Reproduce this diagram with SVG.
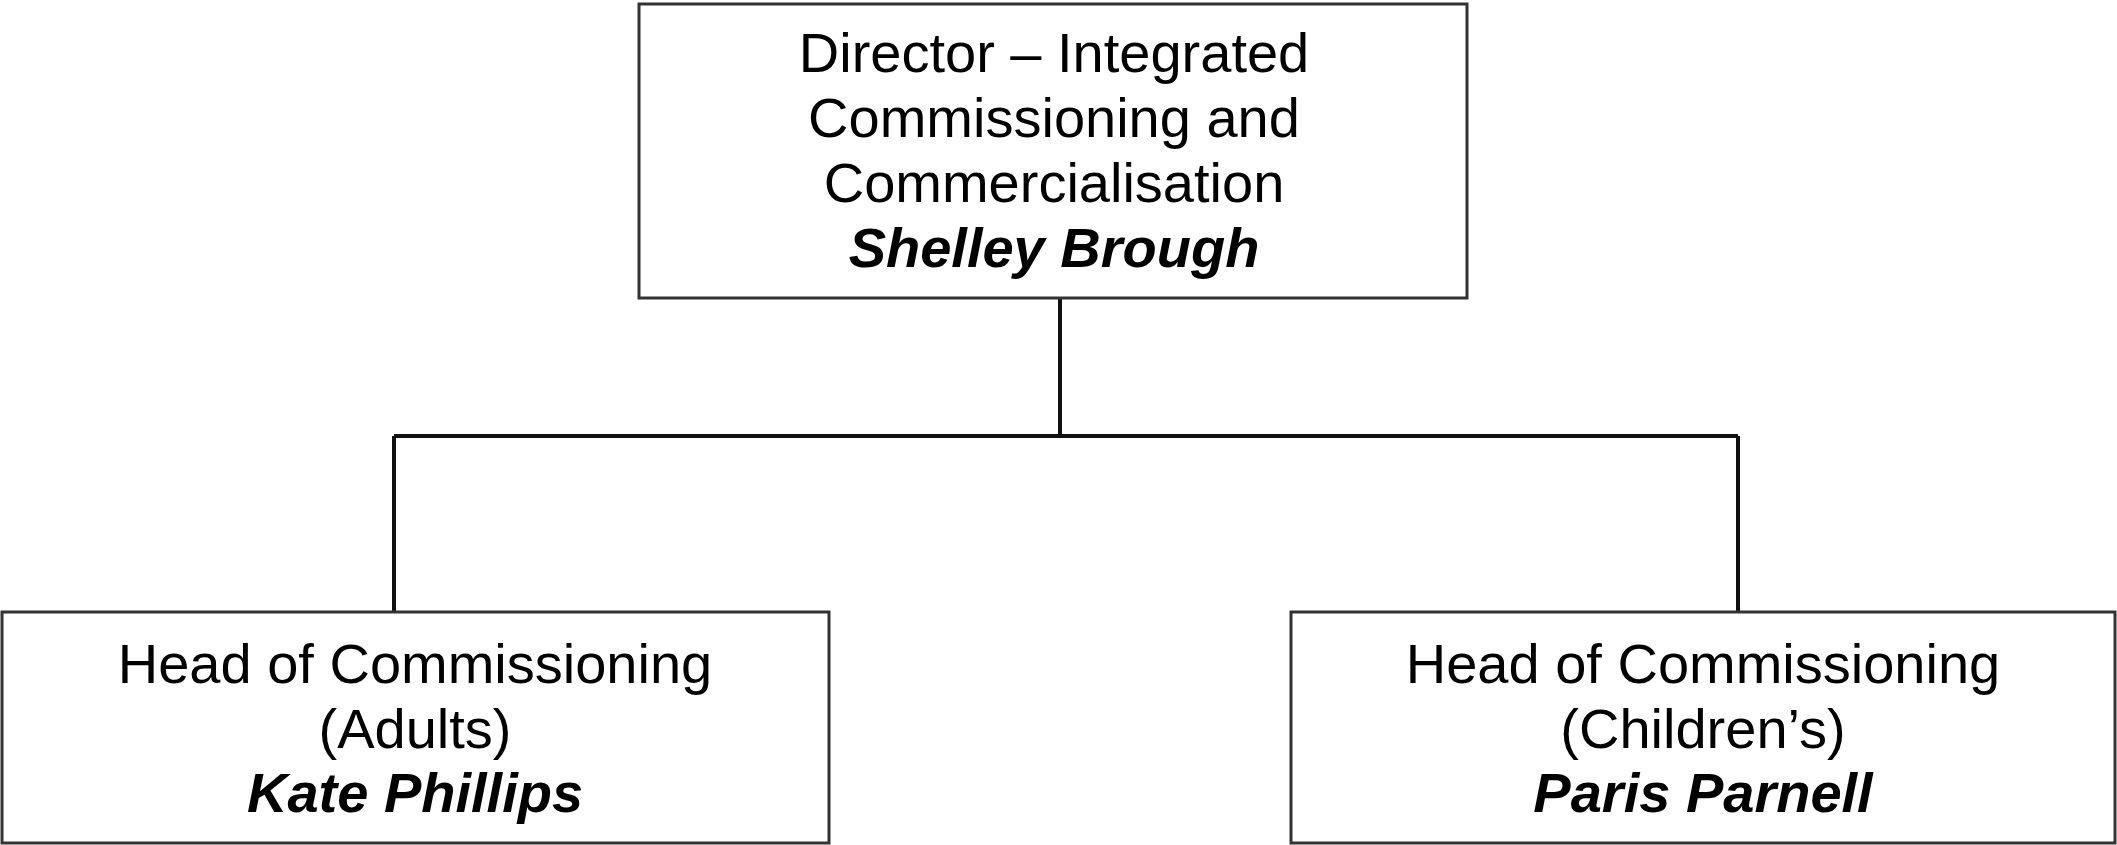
<svg xmlns="http://www.w3.org/2000/svg" width="2117" height="845" viewBox="0 0 2117 845">
<style>
.box{fill:#fff;stroke:#333;stroke-width:3}
.t{font-family:"Liberation Sans",Arial,sans-serif;font-size:56px;fill:#000;text-anchor:middle}
.n{font-weight:bold;font-style:italic}
.c{fill:none;stroke:#111;stroke-width:4}
</style>
<rect width="2117" height="845" fill="#fff"/>
<g id="connectors">
<path class="c" d="M1060 298 V436 M394 436 H1738 M394 436 V612 M1738 436 V612"/>
</g>
<g id="director">
<rect class="box" x="639" y="4" width="828" height="294"/>
<text class="t" x="1054" y="72">Director – Integrated</text>
<text class="t" x="1054" y="137">Commissioning and</text>
<text class="t" x="1054" y="202">Commercialisation</text>
<text class="t n" x="1054" y="267">Shelley Brough</text>
</g>
<g id="adults">
<rect class="box" x="2" y="612" width="827" height="231"/>
<text class="t" x="415" y="683">Head of Commissioning</text>
<text class="t" x="415" y="748">(Adults)</text>
<text class="t n" x="415" y="812">Kate Phillips</text>
</g>
<g id="children">
<rect class="box" x="1291" y="612" width="824" height="231"/>
<text class="t" x="1703" y="683">Head of Commissioning</text>
<text class="t" x="1703" y="748">(Children’s)</text>
<text class="t n" x="1703" y="812">Paris Parnell</text>
</g>
</svg>
